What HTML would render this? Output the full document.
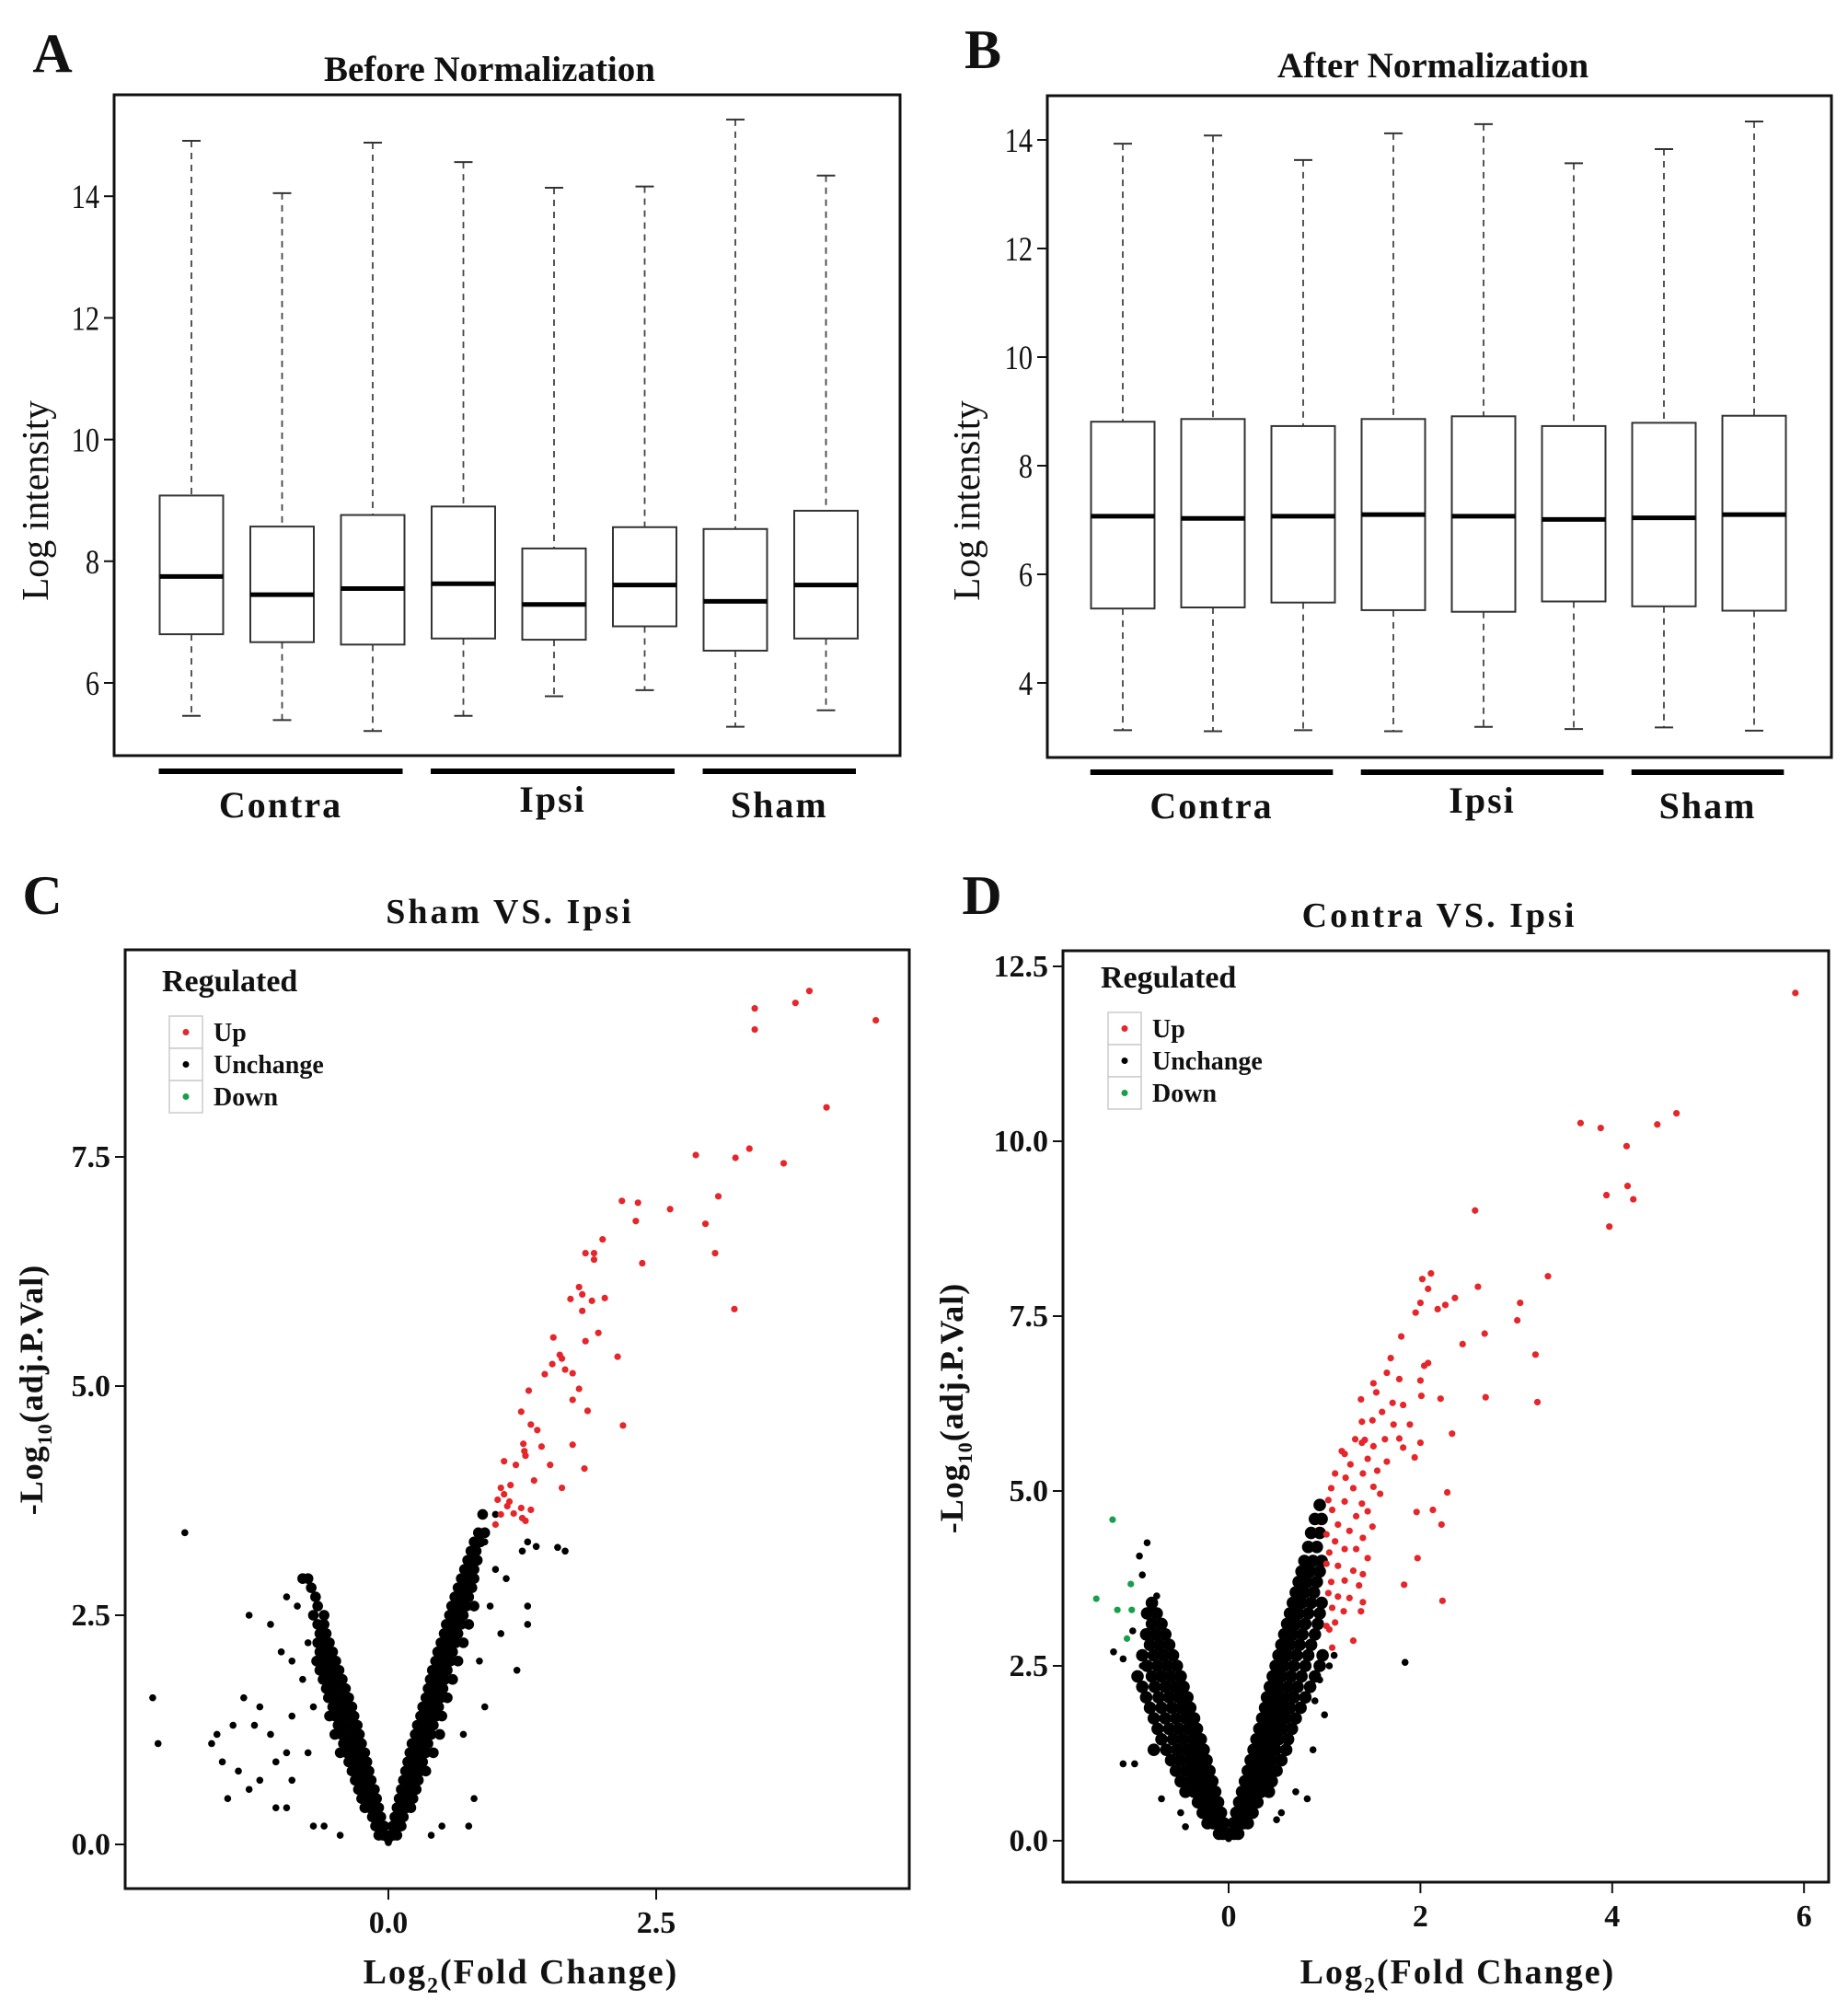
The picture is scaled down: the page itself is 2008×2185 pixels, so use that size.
<!DOCTYPE html>
<html><head><meta charset="utf-8">
<style>
html,body{margin:0;padding:0;background:#fff;}
svg{display:block;}
text{font-family:"Liberation Serif",serif;fill:#111;}
</style></head>
<body>
<svg id="fig" width="2008" height="2185" viewBox="0 0 2008 2185" xmlns="http://www.w3.org/2000/svg"></svg>
<script>
// ---------- Box plot data (A: before, B: after) ----------
const boxSamples = ["Contra1","Contra2","Contra3","Ipsi1","Ipsi2","Ipsi3","Sham1","Sham2"];
const aHi  = [14.91,14.05,14.88,14.56,14.14,14.16,15.26,14.34];
const aQ3  = [9.08,8.57,8.76,8.90,8.21,8.56,8.53,8.83];
const aMed = [7.75,7.45,7.55,7.63,7.29,7.61,7.34,7.61];
const aQ1  = [6.80,6.67,6.63,6.73,6.71,6.93,6.53,6.73];
const aLo  = [5.46,5.39,5.21,5.46,5.78,5.88,5.28,5.55];
const bHi  = [13.93,14.08,13.63,14.12,14.29,13.57,13.83,14.34];
const bQ3  = [8.81,8.86,8.73,8.86,8.91,8.73,8.79,8.92];
const bMed = [7.07,7.03,7.07,7.10,7.07,7.01,7.04,7.10];
const bQ1  = [5.37,5.39,5.48,5.34,5.31,5.50,5.41,5.33];
const bLo  = [3.13,3.11,3.13,3.11,3.19,3.15,3.18,3.12];
const aTicks = [6,8,10,12,14];
const bTicks = [4,6,8,10,12,14];
const groups = ["Contra","Ipsi","Sham"];
const groupStart = [0,3,6];
const groupEnd = [2,5,7];

// ---------- Volcano C (Sham vs Ipsi) ----------
const cUpX = [3.42,3.42,3.8,3.93,4.55,4.09,2.87,3.24,3.37,3.69,2.18,2.33,2.31,2.63,3.08,2.96,3.05,2.37,3.23,2.0,1.84,1.92,1.92,1.78,1.7,1.81,1.81,1.9,2.02,1.96,1.84,2.14,1.54,1.6,1.62,1.53,1.46,1.65,1.72,1.78,1.72,1.86,1.31,1.24,1.33,1.39,2.19,1.26,1.27,1.43,1.72,1.28,1.19,1.08,1.51,1.83,1.36,1.62,1.14,1.05,1.08,1.02,1.13,1.24,1.33,1.17,1.25,1.05,1.0,1.11,1.28];
const cUpY = [9.12,8.89,9.18,9.31,8.99,8.04,7.52,7.49,7.59,7.43,7.02,7.0,6.8,6.93,7.07,6.77,6.45,6.34,5.84,6.6,6.45,6.45,6.38,6.08,5.95,6.0,5.82,5.93,5.96,5.58,5.49,5.32,5.53,5.34,5.3,5.24,5.13,5.18,5.14,4.97,4.85,4.73,4.95,4.72,4.58,4.52,4.57,4.37,4.29,4.34,4.36,4.24,4.14,4.18,4.14,4.1,3.97,3.89,3.92,3.89,3.82,3.76,3.74,3.67,3.65,3.61,3.56,3.6,3.49,3.69,3.53];
const cRowY = [0.1,0.2,0.3,0.4,0.5,0.6,0.7,0.8,0.9,1.0,1.1,1.2,1.3,1.4,1.5,1.6,1.7,1.8,1.9,2.0,2.1,2.2,2.3,2.4,2.5,2.6,2.7,2.8,2.9,3.0,3.1,3.2,3.3,3.4,3.6];
const cRowRight = [[0.02,0.05,0.08],[0.04,0.08,0.12],[0.06,0.1,0.14],[0.08,0.12,0.17,0.21],[0.1,0.14,0.19,0.23],[0.12,0.16,0.21,0.26],[0.14,0.18,0.23,0.28],[0.16,0.2,0.25,0.3,0.35],[0.18,0.22,0.27,0.32],[0.2,0.25,0.3,0.35,0.42],[0.22,0.27,0.32,0.37],[0.25,0.3,0.35,0.4,0.48],[0.27,0.32,0.37,0.42],[0.3,0.34,0.4,0.45,0.5],[0.32,0.36,0.42,0.47],[0.35,0.39,0.44,0.49,0.55],[0.37,0.41,0.46,0.51],[0.39,0.43,0.48,0.53,0.6],[0.41,0.45,0.5,0.55],[0.44,0.48,0.53,0.58,0.65],[0.46,0.5,0.55,0.6],[0.49,0.53,0.58,0.63,0.7],[0.52,0.56,0.6,0.65],[0.54,0.58,0.63,0.68,0.75],[0.57,0.6,0.65,0.7],[0.59,0.63,0.68,0.73,0.8],[0.62,0.66,0.7,0.75],[0.65,0.69,0.73,0.78],[0.68,0.72,0.76,0.8],[0.71,0.75,0.8],[0.74,0.78,0.83],[0.77,0.82],[0.8,0.86],[0.84,0.9],[0.88]];
const cRowLeft = [[-0.02,-0.05,-0.09],[-0.04,-0.08,-0.12],[-0.07,-0.11,-0.15],[-0.09,-0.13,-0.18,-0.22],[-0.11,-0.15,-0.2,-0.25],[-0.13,-0.18,-0.23,-0.28],[-0.16,-0.2,-0.26,-0.31],[-0.18,-0.23,-0.29,-0.34],[-0.2,-0.25,-0.31,-0.37],[-0.22,-0.28,-0.34,-0.39,-0.45],[-0.25,-0.3,-0.36,-0.42],[-0.27,-0.33,-0.39,-0.44,-0.5],[-0.29,-0.35,-0.42,-0.47],[-0.32,-0.38,-0.44,-0.5,-0.55],[-0.34,-0.4,-0.47,-0.52],[-0.37,-0.43,-0.5,-0.56],[-0.4,-0.46,-0.53,-0.58],[-0.43,-0.49,-0.56,-0.61],[-0.46,-0.52,-0.58,-0.64],[-0.49,-0.55,-0.61,-0.67],[-0.52,-0.58,-0.64],[-0.55,-0.61,-0.66],[-0.58,-0.64],[-0.6,-0.66],[-0.6,-0.7],[-0.66],[-0.68],[-0.72],[-0.75,-0.8],[],[],[],[],[],[]];
const cScatX = [1.25,1.3,1.65,1.2,1.3,1.3,1.1,1.0,0.9,0.8,0.75,0.5,0.4,0.9,1.0,0.85,0.7,0.95,1.05,1.58,1.38,-1.9,-2.2,-2.15,-1.6,-1.65,-1.55,-1.4,-1.35,-1.2,-1.25,-1.1,-1.3,-1.05,-0.95,-0.9,-1.3,-1.1,-1.0,-0.9,-0.85,-0.8,-0.75,-0.9,-1.05,-0.95,-0.7,-0.6,-0.45,-0.8,-0.95,-1.2,-1.5,-1.45,-0.7,-0.75,0.0,0.01,-0.01];
const cScatY = [3.2,3.3,3.2,1.9,2.6,2.4,2.9,3.0,1.5,0.5,0.2,0.2,0.1,3.3,3.6,2.0,1.2,2.6,2.3,3.24,3.25,3.4,1.6,1.1,1.2,1.1,0.9,0.8,1.6,1.5,1.3,1.2,0.6,0.9,1.0,1.4,2.5,2.4,2.1,2.0,2.6,1.8,1.0,0.7,0.4,0.4,0.2,0.2,0.1,2.9,2.7,0.7,0.5,1.3,1.5,2.2,0.02,0.05,0.05];
const cYTicks = [0,2.5,5,7.5];
const cYLabels = ["0.0","2.5","5.0","7.5"];
const cXTicks = [0,2.5];
const cXLabels = ["0.0","2.5"];

// ---------- Volcano D (Contra vs Ipsi) ----------
const dUpX = [5.91,3.67,3.88,4.15,4.47,4.67,3.94,4.16,4.22,3.97,2.57,3.33,2.11,2.02,2.08,2.6,2.36,2.26,2.18,2.0,1.95,3.04,3.01,2.67,2.44,1.8,3.2,1.69,2.08,2.04,1.78,1.65,1.51,2.0,1.54,1.38,2.01,2.21,2.68,3.22,1.71,1.6,1.82,1.39,1.5,1.72,1.89,1.32,1.42,1.63,1.78,2.0,2.33,1.18,1.21,1.39,1.51,1.82,1.94,1.27,1.55,1.65,1.45,1.11,1.4,1.22,1.07,1.3,1.51,1.58,1.04,1.21,1.39,1.08,1.33,1.45,1.96,2.13,2.28,1.5,2.22,1.14,1.26,1.02,1.11,1.4,1.21,1.05,1.33,1.02,1.14,1.45,1.97,1.3,1.4,1.07,1.21,1.36,1.83,1.04,1.14,1.26,1.4,2.23,1.08,1.2,1.38,1.02,1.11,1.05,1.3,1.08];
const dUpY = [12.12,10.26,10.19,9.93,10.24,10.4,9.23,9.36,9.17,8.78,9.01,8.07,8.11,8.03,7.89,7.92,7.76,7.66,7.6,7.69,7.55,7.69,7.44,7.25,7.1,7.21,6.95,6.9,6.83,6.79,6.6,6.69,6.54,6.58,6.41,6.31,6.36,6.32,6.34,6.27,6.26,6.13,6.23,5.99,6.01,5.95,5.95,5.74,5.73,5.74,5.75,5.69,5.82,5.57,5.53,5.69,5.64,5.62,5.48,5.38,5.29,5.42,5.46,5.25,5.25,5.19,5.04,5.04,5.06,4.96,4.87,4.85,4.82,4.73,4.64,4.71,4.7,4.73,4.98,4.49,4.52,4.52,4.43,4.38,4.28,4.33,4.17,4.12,4.17,3.96,3.93,4.04,4.04,3.86,3.81,3.7,3.72,3.65,3.66,3.54,3.49,3.47,3.41,3.43,3.33,3.28,3.28,3.07,3.12,3.02,2.86,2.76];
const dDownX = [-1.21,-1.02,-1.38,-1.16,-1.01,-1.06];
const dDownY = [4.59,3.67,3.46,3.3,3.3,2.89];
const dRowY = [0.1,0.25,0.4,0.55,0.7,0.85,1.0,1.15,1.3,1.45,1.6,1.75,1.9,2.05,2.2,2.35,2.5,2.65,2.8,2.95,3.1,3.25,3.4,3.55,3.7,3.85,4.0,4.2,4.4,4.6,4.8];
const dRowRight = [[0.02,0.06,0.1],[0.05,0.1,0.15,0.2],[0.08,0.13,0.19,0.25],[0.11,0.17,0.23,0.3],[0.14,0.2,0.27,0.34,0.42],[0.17,0.23,0.3,0.37,0.45],[0.2,0.27,0.34,0.41,0.5],[0.23,0.3,0.37,0.45,0.55],[0.26,0.33,0.41,0.49,0.6],[0.29,0.36,0.44,0.52,0.62],[0.32,0.4,0.48,0.56,0.66],[0.35,0.43,0.51,0.6,0.7],[0.38,0.46,0.55,0.64,0.75],[0.4,0.49,0.58,0.68,0.8],[0.43,0.52,0.62,0.72,0.85],[0.46,0.55,0.65,0.76,0.9],[0.49,0.58,0.68,0.8,0.95],[0.52,0.61,0.71,0.83,0.98],[0.55,0.64,0.74,0.86],[0.58,0.67,0.77,0.9],[0.61,0.7,0.8,0.93],[0.64,0.73,0.83,0.95],[0.67,0.76,0.86,0.97],[0.7,0.79,0.89],[0.73,0.82,0.92],[0.76,0.85,0.95],[0.79,0.88,0.97],[0.83,0.92],[0.86,0.95],[0.9,0.97],[0.95]];
const dRowLeft = [[-0.02,-0.06,-0.1],[-0.05,-0.1,-0.16,-0.22],[-0.08,-0.14,-0.2,-0.27],[-0.11,-0.17,-0.24,-0.32],[-0.14,-0.21,-0.28,-0.36,-0.45],[-0.17,-0.24,-0.32,-0.4,-0.5],[-0.2,-0.28,-0.36,-0.45,-0.55],[-0.23,-0.31,-0.4,-0.5,-0.6],[-0.26,-0.35,-0.44,-0.54,-0.65,-0.78],[-0.29,-0.38,-0.48,-0.58,-0.7],[-0.33,-0.42,-0.52,-0.62,-0.74],[-0.36,-0.45,-0.55,-0.66,-0.78],[-0.4,-0.49,-0.59,-0.7,-0.82],[-0.43,-0.52,-0.62,-0.73,-0.86],[-0.47,-0.56,-0.66,-0.77,-0.9],[-0.5,-0.6,-0.7,-0.8,-0.95],[-0.54,-0.64,-0.74,-0.85],[-0.58,-0.68,-0.78,-0.9],[-0.62,-0.72,-0.82],[-0.66,-0.76,-0.86],[-0.7,-0.8],[-0.75,-0.85],[-0.8],[],[],[],[],[],[],[],[]];
const dScatX = [-0.85,-0.93,1.84,-1.2,-1.1,-1.1,-0.98,0.88,0.7,0.82,0.55,0.5,-0.45,-0.5,-0.7,-0.9,-0.75,-0.8,-0.7,-1.0,-0.9,1.05,1.1,0.95,0.9,1.0,0.0,0.01,-0.01];
const dScatY = [4.26,4.07,2.55,2.7,2.6,1.1,1.1,1.3,0.7,0.6,0.4,0.3,0.2,0.4,0.6,3.8,3.5,3.3,3.1,3.0,2.5,2.5,2.65,2.3,2.0,1.8,0.03,0.06,0.06];
const dYTicks = [0,2.5,5,7.5,10,12.5];
const dYLabels = ["0.0","2.5","5.0","7.5","10.0","12.5"];
const dXTicks = [0,2,4,6];
const dXLabels = ["0","2","4","6"];

// ---------- helpers ----------
const NS = "http://www.w3.org/2000/svg";
const svg = document.getElementById("fig");
function mk(tag, attrs, name, parent){
  const el = document.createElementNS(NS, tag);
  for (const k in attrs) el.setAttribute(k, attrs[k]);
  
  
  (parent||svg).appendChild(el);
  return el;
}
function txt(x,y,s,size,name,opts){
  opts = opts||{};
  const t = mk("text",{x:0,y:0,"font-size":size,"text-anchor":opts.anchor||"middle",
    "font-weight":opts.bold?"bold":"normal","letter-spacing":opts.ls||0,
    transform:"translate("+x+","+y+") rotate("+(opts.rot||0)+") scale("+(opts.sx||1)+",1)"},name);
  t.textContent = s;
  return t;
}

// ---------- box plot panels ----------
function boxPanel(cfg, hi, q3, med, q1, lo, ticks){
  const g = mk("g",{},cfg.name);
  const yS = v => cfg.y0 - (v - cfg.v0) * cfg.py;
  const xS = i => cfg.c0 + i * cfg.step;
  mk("rect",{x:cfg.L,y:cfg.T,width:cfg.R-cfg.L,height:cfg.B-cfg.T,fill:"none",stroke:"#111","stroke-width":3},"plot-frame",g);
  ticks.forEach(t=>{
    mk("line",{x1:cfg.L-11,x2:cfg.L,y1:yS(t),y2:yS(t),stroke:"#111","stroke-width":2},"y-tick",g);
    txt(cfg.L-16,yS(t)+13,String(t),37,"y-tick-label",{anchor:"end",sx:0.82});
  });
  boxSamples.forEach((s,i)=>{
    const cx = xS(i), w = 69;
    const bg = mk("g",{},"box-"+s.toLowerCase(),g);
    mk("line",{x1:cx,x2:cx,y1:yS(hi[i]),y2:yS(q3[i]),stroke:"#444","stroke-width":1.8,"stroke-dasharray":"7,6"},"upper-whisker",bg);
    mk("line",{x1:cx,x2:cx,y1:yS(q1[i]),y2:yS(lo[i]),stroke:"#444","stroke-width":1.8,"stroke-dasharray":"7,6"},"lower-whisker",bg);
    mk("line",{x1:cx-10,x2:cx+10,y1:yS(hi[i]),y2:yS(hi[i]),stroke:"#333","stroke-width":2},"upper-cap",bg);
    mk("line",{x1:cx-10,x2:cx+10,y1:yS(lo[i]),y2:yS(lo[i]),stroke:"#333","stroke-width":2},"lower-cap",bg);
    mk("rect",{x:cx-w/2,y:yS(q3[i]),width:w,height:yS(q1[i])-yS(q3[i]),fill:"#fff",stroke:"#333","stroke-width":2},"iqr-box",bg);
    mk("line",{x1:cx-w/2,x2:cx+w/2,y1:yS(med[i]),y2:yS(med[i]),stroke:"#000","stroke-width":5},"median-line",bg);
  });
  groups.forEach((gname,k)=>{
    const x1 = xS(groupStart[k]) - cfg.step*0.36, x2 = xS(groupEnd[k]) + cfg.step*0.33;
    mk("line",{x1:x1,x2:x2,y1:cfg.barY,y2:cfg.barY,stroke:"#000","stroke-width":6},"group-bar-"+gname.toLowerCase(),g);
    txt((x1+x2)/2, cfg.barY + (gname==="Ipsi"?44:50), gname, 40, "group-label-"+gname.toLowerCase(), {bold:true,ls:2});
  });
  txt(cfg.titleX, cfg.titleY, cfg.title, 39, "panel-title", {bold:true});
  txt(cfg.ylabX, cfg.ylabY, "Log intensity", 41, "y-axis-title", {rot:-90});
  txt(cfg.letterX, cfg.letterY, cfg.letter, 60, "panel-letter-"+cfg.letter.toLowerCase(), {bold:true});
}
boxPanel({name:"panel-a-boxplot",L:124,R:978,T:103,B:821,y0:742,v0:6,py:66.1,c0:208,step:98.5,barY:838,
  title:"Before Normalization",titleX:532,titleY:88,ylabX:52,ylabY:544,letter:"A",letterX:57,letterY:78},
  aHi,aQ3,aMed,aQ1,aLo,aTicks);
boxPanel({name:"panel-b-boxplot",L:1138,R:1990,T:104,B:823,y0:742,v0:4,py:59,c0:1220,step:98,barY:839,
  title:"After Normalization",titleX:1557,titleY:84,ylabX:1064,ylabY:544,letter:"B",letterX:1068,letterY:74},
  bHi,bQ3,bMed,bQ1,bLo,bTicks);

// ---------- volcano panels ----------
function volcano(cfg, upX, upY, downX, downY, rowY, rowR, rowL, scX, scY, yT, yL, xT, xL){
  const g = mk("g",{},cfg.name);
  const xS = v => cfg.x0 + v*cfg.px;
  const yS = v => cfg.y0 - v*cfg.py;
  mk("rect",{x:cfg.L,y:cfg.T,width:cfg.R-cfg.L,height:cfg.B-cfg.T,fill:"none",stroke:"#111","stroke-width":3},"plot-frame",g);
  yT.forEach((t,i)=>{
    mk("line",{x1:cfg.L-11,x2:cfg.L,y1:yS(t),y2:yS(t),stroke:"#111","stroke-width":2},"y-tick",g);
    txt(cfg.L-16,yS(t)+11,yL[i],34,"y-tick-label",{anchor:"end",bold:true});
  });
  xT.forEach((t,i)=>{
    mk("line",{x1:xS(t),x2:xS(t),y1:cfg.B,y2:cfg.B+12,stroke:"#111","stroke-width":2},"x-tick",g);
    txt(xS(t),cfg.B+48,xL[i],34,"x-tick-label",{bold:true});
  });
  const pts = mk("g",{},"unchanged-points",g);
  rowY.forEach((y,r)=>{
    rowR[r].concat(rowL[r]).forEach(x=>{
      mk("circle",{cx:xS(x),cy:yS(y),r:cfg.rd,fill:"#000"},"unchanged-point",pts);
    });
  });
  scX.forEach((x,i)=>{
    mk("circle",{cx:xS(x),cy:yS(scY[i]),r:3.8,fill:"#000"},"unchanged-point",pts);
  });
  const up = mk("g",{},"up-points",g);
  upX.forEach((x,i)=>{
    mk("circle",{cx:xS(x),cy:yS(upY[i]),r:3.6,fill:"#e5262a"},"up-point",up);
  });
  const dn = mk("g",{},"down-points",g);
  downX.forEach((x,i)=>{
    mk("circle",{cx:xS(x),cy:yS(downY[i]),r:3.6,fill:"#17a04a"},"down-point",dn);
  });
  // legend
  const lg = mk("g",{},"legend",g);
  txt(cfg.legX-8, cfg.legY, "Regulated", 34, "legend-title", {anchor:"start",bold:true});
  const keys = [["Up","#e5262a"],["Unchange","#000"],["Down","#17a04a"]];
  keys.forEach((k,i)=>{
    const ky = cfg.legY + 27 + i*35;
    mk("rect",{x:cfg.legX,y:ky,width:36,height:35,fill:"#fff",stroke:"#ccc","stroke-width":1.5},"legend-key-"+k[0].toLowerCase(),lg);
    mk("circle",{cx:cfg.legX+18,cy:ky+17.5,r:3.5,fill:k[1]},"legend-swatch-"+k[0].toLowerCase(),lg);
    txt(cfg.legX+48, ky+27, k[0], 28, "legend-label-"+k[0].toLowerCase(), {anchor:"start",bold:true});
  });
  txt(cfg.titleX, cfg.titleY, cfg.title, 38, "panel-title", {bold:true,ls:3});
  const xt = txt(cfg.xtX, cfg.xtY, "", 38, "x-axis-title", {bold:true,ls:2});
  xt.innerHTML = 'Log<tspan font-size="24" dy="10">2</tspan><tspan dy="-10">(Fold Change)</tspan>';
  const yt = txt(cfg.ytX, cfg.ytY, "", 36, "y-axis-title", {bold:true,rot:-90,ls:1});
  yt.innerHTML = '-Log<tspan font-size="22" dy="10">10</tspan><tspan dy="-10">(adj.P.Val)</tspan>';
  txt(cfg.letterX, cfg.letterY, cfg.letter, 60, "panel-letter-"+cfg.letter.toLowerCase(), {bold:true});
}
volcano({name:"panel-c-volcano",L:136,R:988,T:1032,B:2052,x0:422,px:116.4,y0:2004,py:99.6,rd:5.8,
  legX:184,legY:1077,title:"Sham VS. Ipsi",titleX:554,titleY:1003,xtX:566,xtY:2155,ytX:46,ytY:1510,
  letter:"C",letterX:46,letterY:993},
  cUpX,cUpY,[],[],cRowY,cRowRight,cRowLeft,cScatX,cScatY,cYTicks,cYLabels,cXTicks,cXLabels);
volcano({name:"panel-d-volcano",L:1155,R:1987,T:1033,B:2045,x0:1335,px:104.2,y0:2000,py:76,rd:6.8,
  legX:1204,legY:1073,title:"Contra VS. Ipsi",titleX:1564,titleY:1007,xtX:1584,xtY:2155,ytX:1046,ytY:1530,
  letter:"D",letterX:1067,letterY:993},
  dUpX,dUpY,dDownX,dDownY,dRowY,dRowRight,dRowLeft,dScatX,dScatY,dYTicks,dYLabels,dXTicks,dXLabels);
</script>
</body></html>
